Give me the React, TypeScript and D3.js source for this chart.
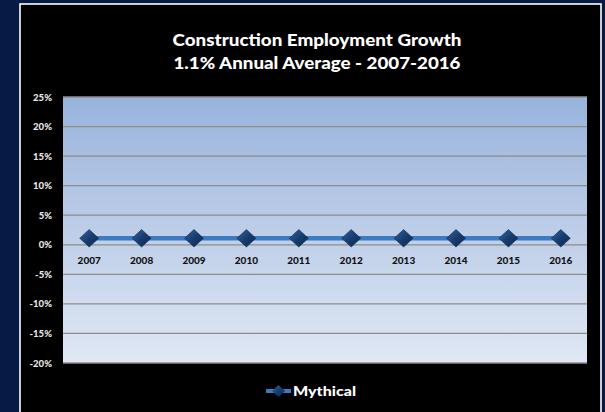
import React from "react";
import * as d3 from "d3";

const YEARS = ["2007", "2008", "2009", "2010", "2011", "2012", "2013", "2014", "2015", "2016"];
const MYTHICAL = [1.1, 1.1, 1.1, 1.1, 1.1, 1.1, 1.1, 1.1, 1.1, 1.1];
const Y_TICKS = [25, 20, 15, 10, 5, 0, -5, -10, -15, -20];
const TITLE = ["Construction Employment Growth", "1.1% Annual  Average - 2007-2016"];
const SERIES_NAME = "Mythical";

const W = 605;
const H = 412;
const plot = { left: 63, right: 587, top: 97, bottom: 363 };
const FONT = "Lato, 'Open Sans', sans-serif";

export default function App() {
  const x = d3.scaleBand().domain(YEARS).range([plot.left, plot.right]);
  const y = d3.scaleLinear().domain([-20, 25]).range([plot.bottom, plot.top]);

  const line = d3
    .line<number>()
    .x((_, i) => (x(YEARS[i]) as number) + x.bandwidth() / 2)
    .y((d) => y(d));

  // diamond marker path
  const diamond = (cx: number, cy: number, r: number) =>
    `M${cx},${cy - r * 0.92} L${cx + r},${cy} L${cx},${cy + r * 0.92} L${cx - r},${cy} Z`;

  return (
    <div style={{ position: "fixed", left: 0, top: 0 }}>
      <svg width={W} height={H} style={{ display: "block" }}>
        <defs>
          <linearGradient id="plotBg" x1="0" y1="0" x2="0" y2="1">
            <stop offset="0%" stopColor="#99b3dc" />
            <stop offset="100%" stopColor="#e1e8f4" />
          </linearGradient>
          <linearGradient id="mk" x1="0" y1="0" x2="1" y2="1">
            <stop offset="0%" stopColor="#3565a0" />
            <stop offset="50%" stopColor="#173d6e" />
            <stop offset="100%" stopColor="#0c284f" />
          </linearGradient>
        </defs>

        <rect x={0} y={0} width={W} height={H} fill="#051a45" />
        <rect x={20} y={4} width={581} height={H + 10} fill="#000" stroke="#fff" strokeWidth={1.6} />

        {/* title */}
        <g fill="#fff" fontFamily={FONT} fontWeight="900" fontSize={16.5} textAnchor="middle">
          <text x={317} y={46} textLength={289} lengthAdjust="spacingAndGlyphs">{TITLE[0]}</text>
          <text x={317} y={69} textLength={287} lengthAdjust="spacingAndGlyphs">{TITLE[1]}</text>
        </g>

        {/* plot background */}
        <rect
          x={plot.left}
          y={plot.top}
          width={plot.right - plot.left}
          height={plot.bottom - plot.top}
          fill="url(#plotBg)"
        />

        {/* gridlines */}
        {Y_TICKS.map((t) => (
          <line
            key={t}
            x1={plot.left}
            x2={plot.right}
            y1={y(t)}
            y2={y(t)}
            stroke="#8c8c8c"
            strokeWidth={1.3}
          />
        ))}

        {/* y tick labels */}
        <g fill="#e8e8e8" fontFamily={FONT} fontWeight="900" fontSize={9.5} textAnchor="end">
          {Y_TICKS.map((t) => (
            <text key={t} x={52} y={y(t) + 3.5}>
              {t + "%"}
            </text>
          ))}
        </g>

        {/* x tick labels */}
        <g fill="#111" fontFamily={FONT} fontWeight="900" fontSize={10} textAnchor="middle">
          {YEARS.map((yr) => (
            <text key={yr} x={(x(yr) as number) + x.bandwidth() / 2} y={y(0) + 19.5}>
              {yr}
            </text>
          ))}
        </g>

        {/* series */}
        <path d={line(MYTHICAL) || ""} fill="none" stroke="#3b7bc4" strokeWidth={4.5} />
        {MYTHICAL.map((v, i) => (
          <path
            key={i}
            d={diamond((x(YEARS[i]) as number) + x.bandwidth() / 2, y(v), 9.5)}
            fill="url(#mk)"
            stroke="#0c2a55"
            strokeWidth={0.6}
          />
        ))}

        {/* legend */}
        <line x1={266} x2={291} y1={391} y2={391} stroke="#3b7bc4" strokeWidth={4} />
        <path d={diamond(278.5, 391, 6.5)} fill="url(#mk)" />
        <text
          x={293}
          y={396}
          fill="#fff"
          fontFamily={FONT}
          fontWeight="900"
          fontSize={14}
          textLength={63}
          lengthAdjust="spacingAndGlyphs"
        >
          {SERIES_NAME}
        </text>
      </svg>
    </div>
  );
}
